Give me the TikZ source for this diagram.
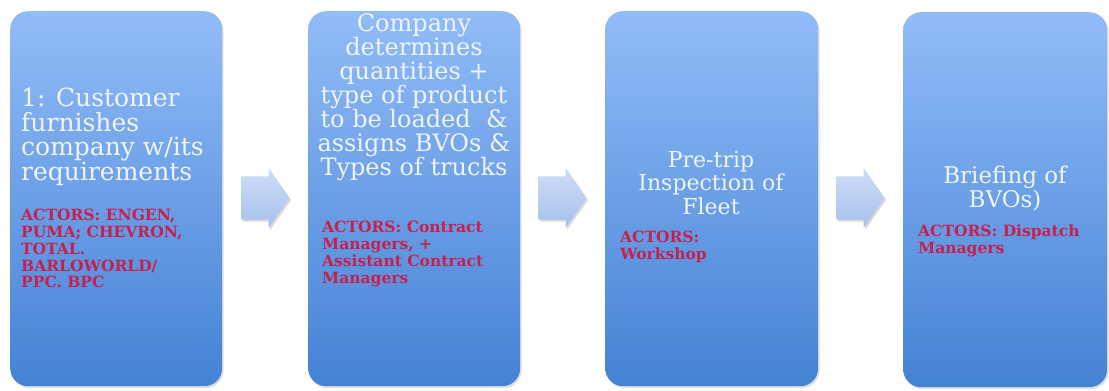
\documentclass[tikz,border=0pt]{standalone}
\usepackage{fontspec}
\setmainfont{DejaVu Serif}
\usetikzlibrary{shapes.arrows,shadows}

\definecolor{boxtop}{RGB}{146,188,248}
\definecolor{boxbot}{RGB}{68,130,212}
\definecolor{wtxt}{RGB}{238,245,255}
\definecolor{rtxt}{RGB}{200,32,78}
\definecolor{arrtop}{RGB}{206,221,245}
\definecolor{arrbot}{RGB}{166,192,236}

\tikzset{
  stepbox/.style={rectangle, rounded corners=18pt, inner sep=0pt,
    top color=boxtop, bottom color=boxbot, draw=none,
    drop shadow={opacity=0.25, shadow xshift=1.5pt, shadow yshift=-2pt},
    minimum height=375pt, anchor=north west},
  flowarrow/.style={single arrow, inner xsep=0pt, inner ysep=18pt, draw=none,
    minimum height=48pt, minimum width=60pt, single arrow tip angle=110,
    top color=arrtop, bottom color=arrbot,
    drop shadow={opacity=0.3, shadow xshift=1.5pt, shadow yshift=-2pt}},
  maintxt/.style={inner sep=0pt, text=wtxt},
  actortxt/.style={inner sep=0pt, text=rtxt, align=left, anchor=north west,
    font=\bfseries\fontsize{15.5}{16.8}\selectfont},
}

\begin{document}
\begin{tikzpicture}[x=1pt, y=-1pt]
\useasboundingbox (0,0) rectangle (1109,391);

% the four process steps
\node[stepbox, minimum width=212pt] (s1) at (10,11) {};
\node[stepbox, minimum width=212pt] (s2) at (308,11) {};
\node[stepbox, minimum width=213pt] (s3) at (605,11) {};
\node[stepbox, minimum width=204pt] (s4) at (903,12) {};

% arrows between steps
\node[flowarrow] (a1) at (258,198) {};
\node[flowarrow] (a2) at (555,198) {};
\node[flowarrow] (a3) at (853,198) {};

% step 1
\node[maintxt, align=left, anchor=north west,
      font=\fontsize{25}{24.5}\selectfont] (t1) at (21,88)
  {1: Customer\\furnishes\\company w/its\\requirements};
\node[actortxt] (r1) at (21,209)
  {ACTORS: ENGEN,\\PUMA; CHEVRON,\\TOTAL.\\BARLOWORLD/\\PPC. BPC};

% step 2
\node[maintxt, align=center, anchor=north,
      font=\fontsize{24}{24}\selectfont] (t2) at (414,13)
  {Company\\determines\\quantities +\\type of product\\to be loaded~~\&\\assigns BVOs \&\\Types of trucks};
\node[actortxt] (r2) at (322,221)
  {ACTORS: Contract\\Managers, +\\Assistant Contract\\Managers};

% step 3
\node[maintxt, align=center, anchor=north,
      font=\fontsize{22}{23.5}\selectfont] (t3) at (711,151)
  {Pre-trip\\Inspection of\\Fleet};
\node[actortxt] (r3) at (620,231)
  {ACTORS:\\Workshop};

% step 4
\node[maintxt, align=center, anchor=north,
      font=\fontsize{23}{24}\selectfont] (t4) at (1005,166)
  {Briefing of\\BVOs)};
\node[actortxt] (r4) at (918,225)
  {ACTORS: Dispatch\\Managers};
\end{tikzpicture}
\end{document}
